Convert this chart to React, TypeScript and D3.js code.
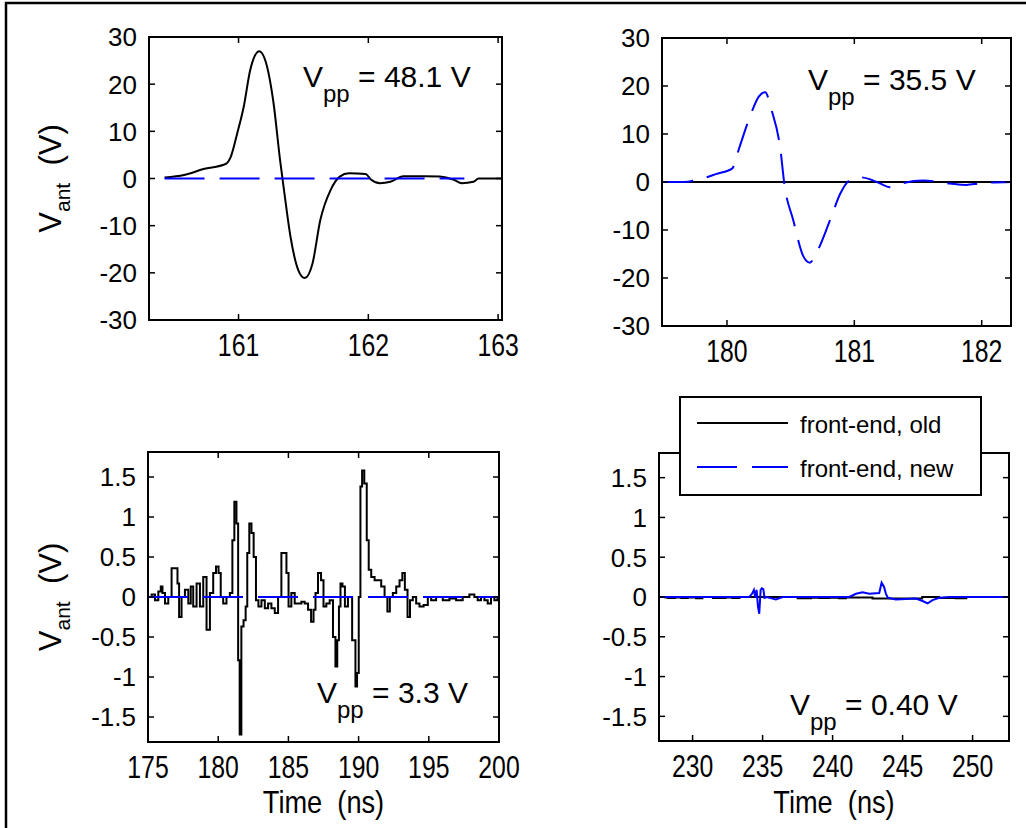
import React from 'react';
import * as d3 from 'd3';

// ---------- data ----------
// Panel 1: old front-end, 160-163 ns
const p1OldT = [160.43, 160.58, 160.73, 160.9, 160.94, 160.99, 161.04, 161.09, 161.16, 161.21, 161.27, 161.32, 161.35, 161.4, 161.46, 161.51, 161.57, 161.63, 161.71, 161.78, 161.85, 161.98, 162.02, 162.09, 162.17, 162.27, 162.43, 162.55, 162.66, 162.72, 162.81, 162.85, 163.03];
const p1OldV = [0.2, 0.74, 2.0, 3.07, 4.6, 9.6, 15.2, 23, 27.0, 24.7, 15.9, 3.9, -2.4, -12.3, -19.4, -21.1, -18, -8.8, -2.4, 0.4, 1.1, 0.95, -0.2, -1.0, -0.7, 0.5, 0.5, 0.4, -0.3, -1.0, -0.7, 0.0, 0.0];
const p1NewT = [160.43, 161.0, 161.5, 162.0, 162.5, 162.74];
const p1NewV = [0, 0, 0, 0, 0, 0];

// Panel 2: new front-end, 179.5-182.2 ns
const p2OldT = [179.6, 180.5, 181.5, 182.23];
const p2OldV = [0, 0, 0, 0];
const p2NewT = [179.5, 179.66, 179.79, 179.92, 180.04, 180.1, 180.18, 180.25, 180.3, 180.35, 180.42, 180.45, 180.52, 180.6, 180.65, 180.7, 180.81, 180.89, 180.96, 181.04, 181.12, 181.2, 181.28, 181.36, 181.54, 181.75, 181.88, 181.98, 182.23];
const p2NewV = [0, 0, 0.6, 1.7, 2.8, 7.4, 13.6, 17.8, 18.7, 15, 6.7, -0.3, -7.9, -15.5, -16.8, -14.9, -7.9, -2.4, 0.3, 1.0, 0.6, -0.3, -1.1, -0.4, 0.3, -0.3, -0.6, -0.3, 0];

// Panel 3: old front-end, 175-200 ns
const p3OldT = [175.14, 175.38, 175.62, 175.85, 175.97, 176.09, 176.33, 176.56, 176.8, 177.04, 177.16, 177.27, 177.51, 177.75, 177.99, 178.1, 178.34, 178.58, 178.82, 179.05, 179.29, 179.53, 179.76, 179.93, 180.12, 180.24, 180.47, 180.71, 180.95, 181.07, 181.23, 181.37, 181.47, 181.59, 181.71, 181.9, 182.01, 182.13, 182.3, 182.44, 182.61, 182.77, 182.96, 183.2, 183.44, 183.67, 183.91, 184.15, 184.38, 184.62, 184.79, 184.93, 185.09, 185.33, 185.57, 185.81, 186.04, 186.28, 186.52, 186.71, 186.87, 186.99, 187.23, 187.42, 187.58, 187.82, 188.06, 188.29, 188.41, 188.55, 188.65, 188.77, 188.93, 189.12, 189.36, 189.72, 189.83, 189.95, 190.07, 190.19, 190.31, 190.5, 190.66, 190.78, 191.02, 191.26, 191.49, 191.73, 191.97, 192.13, 192.32, 192.56, 192.8, 193.03, 193.2, 193.39, 193.58, 193.74, 193.98, 194.22, 194.45, 194.81, 195.05, 195.28, 195.76, 196.23, 196.71, 197.18, 197.65, 198.13, 198.36, 198.6, 198.84, 199.08, 199.31, 199.55, 199.79, 200];
const p3OldV = [0.0, 0.03, -0.04, 0.07, 0.13, 0.05, -0.08, 0.0, 0.36, 0.36, 0.17, -0.25, 0.0, 0.09, -0.08, 0.13, -0.12, 0.17, -0.12, 0.25, -0.41, 0.05, 0.3, 0.38, 0.3, 0.0, -0.08, 0.0, 0.05, 0.71, 1.19, 0.92, -0.79, -1.72, -0.37, -0.29, -0.12, 0.55, 0.92, 0.8, 0.5, -0.04, -0.12, -0.04, -0.14, -0.08, -0.14, -0.2, 0.0, 0.55, 0.55, 0.3, -0.12, 0.05, -0.08, -0.08, -0.06, -0.08, -0.16, -0.31, -0.16, 0.05, 0.3, 0.21, -0.12, -0.08, -0.04, -0.5, -0.87, -0.54, -0.12, 0.17, 0.13, -0.12, 0.0, -0.54, -1.12, -0.95, 0.0, 1.38, 1.58, 1.42, 0.71, 0.34, 0.25, 0.21, 0.21, 0.13, 0.0, -0.18, 0.0, 0.05, 0.13, 0.21, 0.3, 0.09, -0.25, -0.04, 0.0, -0.08, -0.12, -0.1, 0.0, -0.04, 0.0, -0.04, -0.02, -0.04, 0.0, 0.03, 0.0, -0.04, 0.0, -0.04, -0.08, 0.0, -0.04, 0.0];
const p3NewT = [175, 180, 185, 190, 195, 200];
const p3NewV = [0, 0, 0, 0, 0, 0];

// Panel 4: new front-end, 227.6-252.6 ns
const p4OldT = [228.0, 228.5, 229.0, 229.4, 229.9, 230.6, 230.8, 232.1, 232.6, 233.1, 233.6, 236.9, 238.1, 238.8, 239.3, 240.2, 240.7, 241.2, 244.5, 245.0, 245.9, 246.9, 248.3, 249.3, 249.8];
const p4OldV = [-0.006, -0.014, -0.006, -0.014, -0.006, -0.016, 0, -0.014, -0.006, -0.014, 0, 0, -0.016, -0.01, -0.014, -0.01, -0.016, -0.006, -0.02, -0.02, -0.02, 0, -0.014, -0.016, 0];
const p4NewT = [227.62, 234.05, 234.24, 234.38, 234.48, 234.57, 234.67, 234.76, 234.86, 234.95, 235.05, 235.14, 235.29, 235.95, 236.43, 241.19, 241.67, 242.14, 242.62, 243.33, 243.5, 243.67, 243.81, 243.95, 244.52, 245.95, 246.43, 246.79, 247.14, 247.62, 248.33, 252.6];
const p4NewV = [0, 0, 0.04, 0.09, -0.01, 0.09, -0.12, -0.21, 0.09, 0.11, 0.1, -0.01, 0, -0.03, 0, 0, 0.04, 0.06, 0.04, 0.05, 0.18, 0.13, 0.04, -0.01, -0.03, -0.02, -0.05, -0.08, -0.04, -0.01, 0, 0];

// axes / labels
const bigTicks = [-30, -20, -10, 0, 10, 20, 30];
const smallTicks = [-1.5, -1, -0.5, 0, 0.5, 1, 1.5];
const p1XTicks = [161, 162, 163];
const p2XTicks = [180, 181, 182];
const p3XTicks = [175, 180, 185, 190, 195, 200];
const p4XTicks = [230, 235, 240, 245, 250];
const vppValues = ['48.1', '35.5', '3.3', '0.40'];
const legendLabels = ['front-end, old', 'front-end, new'];
const xLabelText = 'Time  (ns)';

const FONT = "'Liberation Sans', Arial, Helvetica, sans-serif";
const DASH = '40,15';

type Series = { t: number[]; v: number[]; color: string; dash?: string; step?: boolean; smooth?: boolean };
type Panel = {
  left: number; right: number; top: number; bottom: number;
  xDomain: [number, number]; yDomain: [number, number];
  xTicks: number[]; yTicks: number[];
  series: Series[];
  vpp: { x: number; y: number; text: string };
  ylabel: boolean; xlabel: boolean;
};

const panels: Panel[] = [
  {
    left: 149, right: 502, top: 37, bottom: 320,
    xDomain: [160.31, 163.03], yDomain: [-30, 30],
    xTicks: p1XTicks, yTicks: bigTicks,
    series: [
      { t: p1OldT, v: p1OldV, color: '#000', smooth: true },
      { t: p1NewT, v: p1NewV, color: '#0000ff', dash: DASH },
    ],
    vpp: { x: 303, y: 87, text: vppValues[0] }, ylabel: true, xlabel: false,
  },
  {
    left: 662, right: 1011, top: 38, bottom: 326,
    xDomain: [179.49, 182.23], yDomain: [-30, 30],
    xTicks: p2XTicks, yTicks: bigTicks,
    series: [
      { t: p2OldT, v: p2OldV, color: '#000' },
      { t: p2NewT, v: p2NewV, color: '#0000ff', dash: '30,14', smooth: true },
    ],
    vpp: { x: 808, y: 90, text: vppValues[1] }, ylabel: false, xlabel: false,
  },
  {
    left: 148, right: 499, top: 452, bottom: 742,
    xDomain: [175, 200], yDomain: [-1.8125, 1.8125],
    xTicks: p3XTicks, yTicks: smallTicks,
    series: [
      { t: p3OldT, v: p3OldV, color: '#000', step: true },
      { t: p3NewT, v: p3NewV, color: '#0000ff', dash: DASH },
    ],
    vpp: { x: 317, y: 703, text: vppValues[2] }, ylabel: true, xlabel: true,
  },
  {
    left: 659, right: 1009, top: 453, bottom: 741,
    xDomain: [227.6, 252.6], yDomain: [-1.81, 1.81],
    xTicks: p4XTicks, yTicks: smallTicks,
    series: [
      { t: p4OldT, v: p4OldV, color: '#000', step: true },
      { t: p4NewT, v: p4NewV, color: '#0000ff' },
    ],
    vpp: { x: 790, y: 715, text: vppValues[3] }, ylabel: false, xlabel: true,
  },
];

function PanelView({ p, idx }: { p: Panel; idx: number }) {
  const x = d3.scaleLinear().domain(p.xDomain).range([p.left, p.right]);
  const y = d3.scaleLinear().domain(p.yDomain).range([p.bottom, p.top]);
  const clipId = `clip${idx}`;
  const tl = 6;
  return (
    <g>
      <defs>
        <clipPath id={clipId}>
          <rect x={p.left} y={p.top} width={p.right - p.left} height={p.bottom - p.top} />
        </clipPath>
      </defs>
      <rect x={p.left} y={p.top} width={p.right - p.left} height={p.bottom - p.top} fill="#fff" />
      <g clipPath={`url(#${clipId})`}>
        {p.series.map((s, i) => {
          const pts = s.t.map((t, k) => [t, s.v[k]] as [number, number]);
          const line = d3.line<[number, number]>()
            .x(d => x(d[0])).y(d => y(d[1]))
            .curve(s.step ? d3.curveStep : s.smooth ? d3.curveMonotoneX : d3.curveLinear);
          return (
            <path key={i} d={line(pts) || ''} fill="none" stroke={s.color} strokeWidth={2}
              strokeDasharray={s.dash} strokeLinejoin="miter" />
          );
        })}
      </g>
      {p.xTicks.map(t => (
        <g key={`xt${t}`}>
          <line x1={x(t)} x2={x(t)} y1={p.bottom} y2={p.bottom - tl} stroke="#000" strokeWidth={1.5} />
          <line x1={x(t)} x2={x(t)} y1={p.top} y2={p.top + tl} stroke="#000" strokeWidth={1.5} />
          <text transform={`translate(${x(t)},${p.bottom + 36}) scale(0.8,1)`} textAnchor="middle"
            fontSize={31} fontFamily={FONT} fill="#000">{String(t)}</text>
        </g>
      ))}
      {p.yTicks.map(t => (
        <g key={`yt${t}`}>
          <line x1={p.left} x2={p.left + tl} y1={y(t)} y2={y(t)} stroke="#000" strokeWidth={1.5} />
          <line x1={p.right} x2={p.right - tl} y1={y(t)} y2={y(t)} stroke="#000" strokeWidth={1.5} />
          <text x={p.left - 12} y={y(t)} dy="0.36em" textAnchor="end"
            fontSize={26} fontFamily={FONT} fill="#000">{String(t)}</text>
        </g>
      ))}
      <rect x={p.left} y={p.top} width={p.right - p.left} height={p.bottom - p.top} fill="none" stroke="#000" strokeWidth={2} />
      <text x={p.vpp.x} y={p.vpp.y} fontSize={30} fontFamily={FONT} fill="#000" style={{ whiteSpace: 'pre' }}>
        V<tspan dy={15} fontSize={24}>pp</tspan><tspan dy={-15}>{` = ${p.vpp.text} V`}</tspan>
      </text>
      {p.ylabel && (
        <text transform={`translate(61,${(p.top + p.bottom) / 2}) rotate(-90)`} textAnchor="middle"
          fontSize={31} fontFamily={FONT} fill="#000" style={{ whiteSpace: 'pre' }}>
          V<tspan dy={9} fontSize={21}>ant</tspan><tspan dy={-9}>{'  (V)'}</tspan>
        </text>
      )}
      {p.xlabel && (
        <text transform={`translate(${(p.left + p.right) / 2},813) scale(0.85,1)`} textAnchor="middle"
          fontSize={32} fontFamily={FONT} fill="#000" style={{ whiteSpace: 'pre' }}>{xLabelText}</text>
      )}
    </g>
  );
}

export default function App() {
  const legendColors = ['#000', '#0000ff'];
  const legendDash = [undefined, DASH];
  return (
    <svg width={1026} height={828} style={{ position: 'absolute', left: 0, top: 0, background: '#fff' }}>
      <rect x={0} y={0} width={1026} height={828} fill="#fff" />
      <path d="M6,828 V3 H1026" fill="none" stroke="#000" strokeWidth={2.5} />
      {panels.map((p, i) => <PanelView key={i} p={p} idx={i} />)}
      <g>
        <rect x={680} y={397} width={301} height={98} fill="#fff" stroke="#000" strokeWidth={2} />
        {legendLabels.map((lab, i) => (
          <g key={lab}>
            <line x1={697} x2={788} y1={423 + i * 44} y2={423 + i * 44} stroke={legendColors[i]} strokeWidth={2}
              strokeDasharray={legendDash[i]} />
            <text x={800} y={433 + i * 44} fontSize={24} fontFamily={FONT} fill="#000">{lab}</text>
          </g>
        ))}
      </g>
    </svg>
  );
}
